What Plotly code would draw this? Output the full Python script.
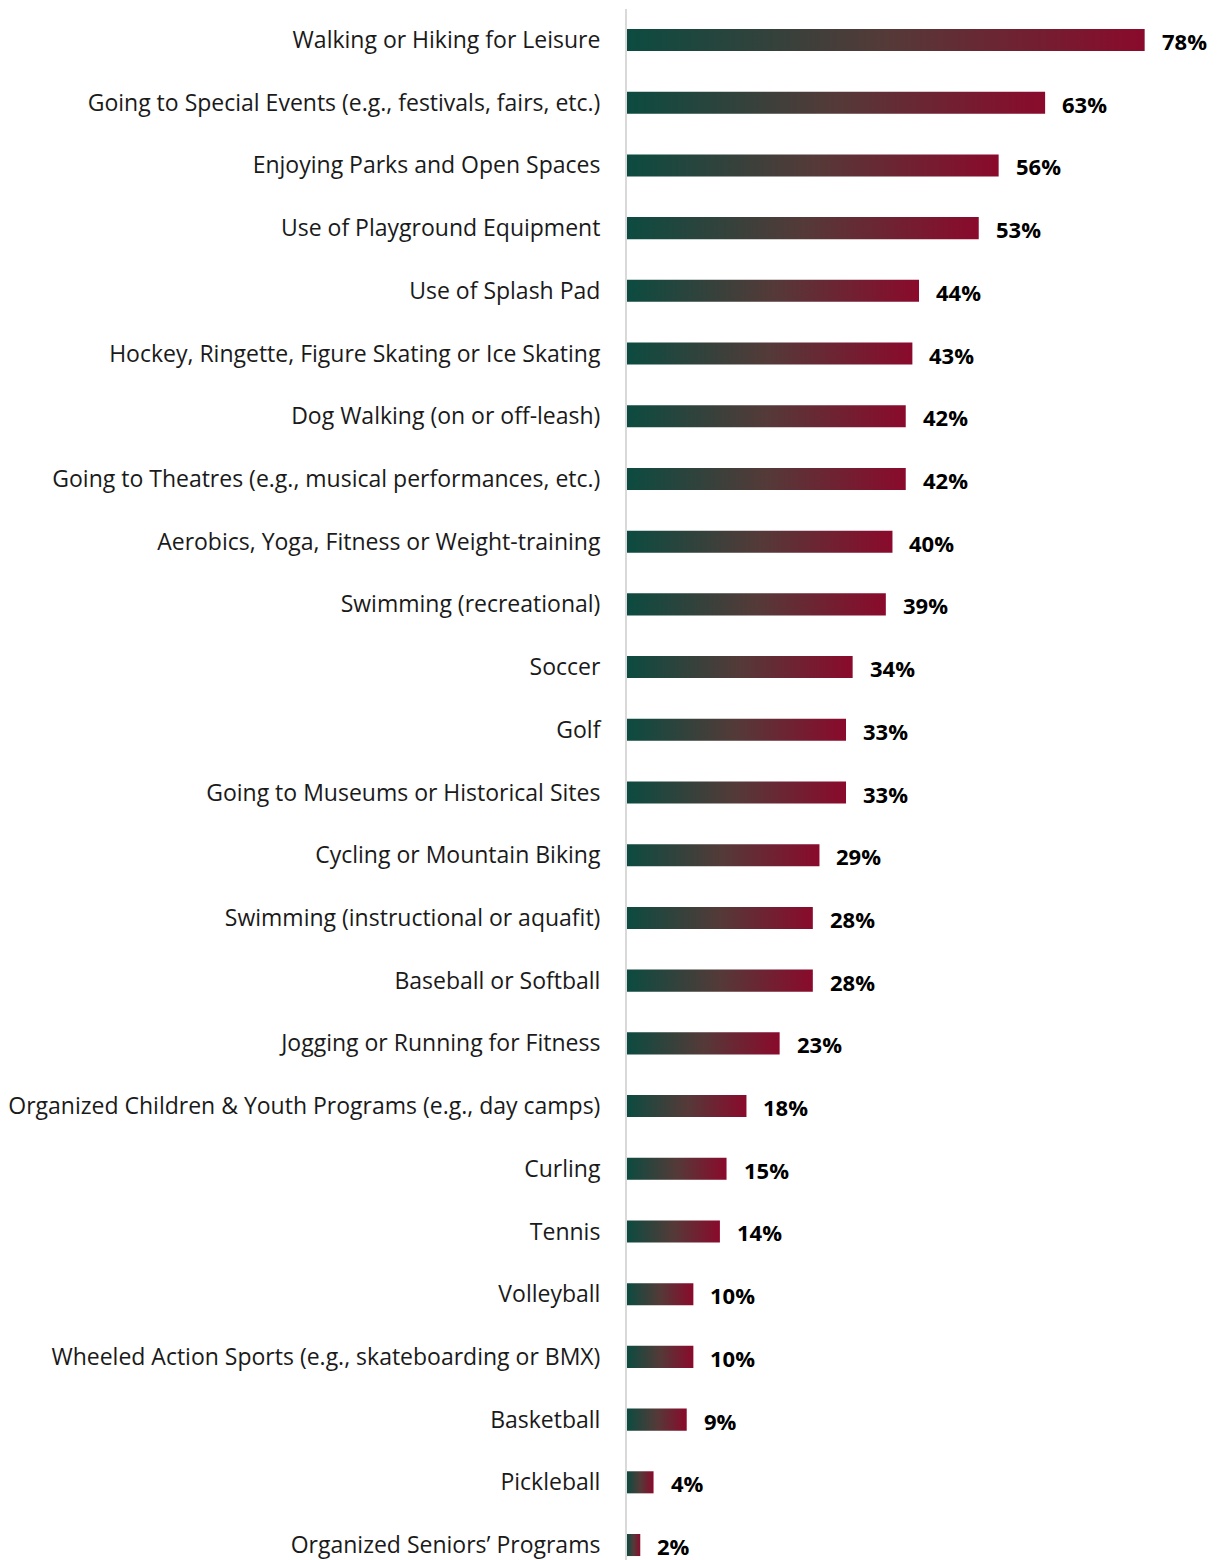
import plotly.graph_objects as go

# Share of respondents taking part in each activity (%), top to bottom
activities = [
    "Walking or Hiking for Leisure",
    "Going to Special Events (e.g., festivals, fairs, etc.)",
    "Enjoying Parks and Open Spaces",
    "Use of Playground Equipment",
    "Use of Splash Pad",
    "Hockey, Ringette, Figure Skating or Ice Skating",
    "Dog Walking (on or off-leash)",
    "Going to Theatres (e.g., musical performances, etc.)",
    "Aerobics, Yoga, Fitness or Weight-training",
    "Swimming (recreational)",
    "Soccer",
    "Golf",
    "Going to Museums or Historical Sites",
    "Cycling or Mountain Biking",
    "Swimming (instructional or aquafit)",
    "Baseball or Softball",
    "Jogging or Running for Fitness",
    "Organized Children & Youth Programs (e.g., day camps)",
    "Curling",
    "Tennis",
    "Volleyball",
    "Wheeled Action Sports (e.g., skateboarding or BMX)",
    "Basketball",
    "Pickleball",
    "Organized Seniors\u2019 Programs",
]
percent = [78, 63, 56, 53, 44, 43, 42, 42, 40, 39, 34, 33, 33, 29, 28, 28,
           23, 18, 15, 14, 10, 10, 9, 4, 2]

FONT = "Open Sans"
GRADIENT = [[0.0, "#0c4b40"], [0.5, "#543a38"], [1.0, "#8a0a2c"]]
HALF = 0.176  # half bar thickness in category units

fig = go.Figure()

# Each bar is a filled rectangle with its own left-to-right gradient
for i, v in enumerate(percent):
    fig.add_trace(go.Scatter(
        x=[0, v, v, 0, 0],
        y=[i - HALF, i - HALF, i + HALF, i + HALF, i - HALF],
        mode="lines",
        fill="toself",
        fillgradient=dict(type="horizontal", colorscale=GRADIENT),
        line=dict(width=0, color="rgba(0,0,0,0)"),
        hoverinfo="skip",
        showlegend=False,
    ))
    fig.add_annotation(
        x=v, y=i, text=f"<b>{v}%</b>", showarrow=False,
        xanchor="left", yanchor="middle", xshift=15, yshift=-1,
        font=dict(family=FONT, size=22, color="#000000"),
    )

fig.update_layout(
    width=1217, height=1560,
    margin=dict(l=627, r=0, t=9, b=0),
    paper_bgcolor="white", plot_bgcolor="white",
    font=dict(family=FONT, color="#000000"),
    xaxis=dict(range=[0, 88.9], visible=False, fixedrange=True),
    yaxis=dict(
        range=[24.239, -0.4943],
        tickvals=list(range(len(activities))),
        ticktext=activities,
        tickfont=dict(family=FONT, size=23, color="#1a1a1a"),
        ticks="",
        ticklabelstandoff=20,
        ticklabeloverflow="allow",
        showgrid=False, zeroline=False,
        showline=True, linecolor="#d9d9d9", linewidth=2,
        fixedrange=True,
    ),
)

fig.write_html("out.html")
